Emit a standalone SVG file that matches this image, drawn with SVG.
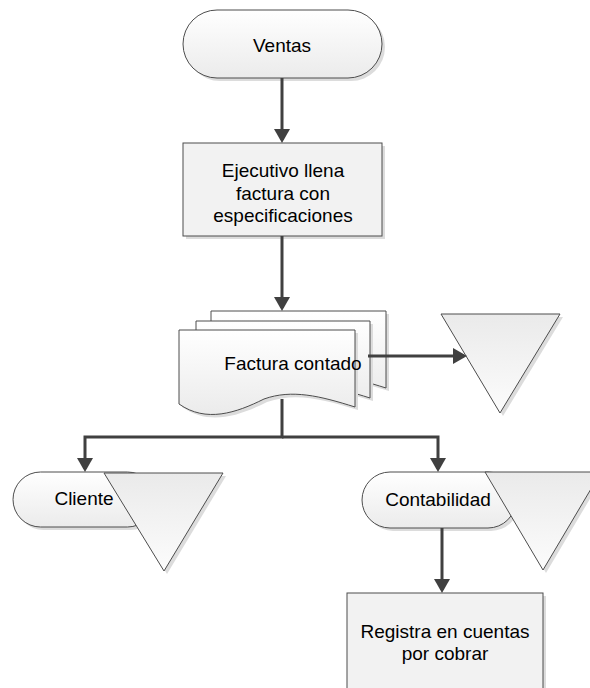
<svg xmlns="http://www.w3.org/2000/svg" width="590" height="688" viewBox="0 0 590 688">
  <defs>
    <linearGradient id="fillDown" x1="0" y1="0" x2="0" y2="1">
      <stop offset="0" stop-color="#ffffff"/>
      <stop offset="1" stop-color="#ebebeb"/>
    </linearGradient>
    <linearGradient id="fillUp" x1="0" y1="0" x2="0" y2="1">
      <stop offset="0" stop-color="#eaeaea"/>
      <stop offset="1" stop-color="#fcfcfc"/>
    </linearGradient>
    <marker id="arrow" markerUnits="userSpaceOnUse" markerWidth="16" markerHeight="16" viewBox="0 0 14 16" refX="11" refY="8" orient="auto">
      <path d="M0,0 L14,8 L0,16 Z" fill="#404040"/>
    </marker>
  </defs>
  <style>
    .shape { fill: url(#fillDown); stroke: #4d4d4d; stroke-width: 1; }
    .tri { fill: url(#fillUp); stroke: #4d4d4d; stroke-width: 1; }
    .proc { fill: #f2f2f2; stroke: #4d4d4d; stroke-width: 1; }
    .shadow { fill: #dcdcdc; stroke: none; }
    .label { font-family: "Liberation Sans", Arial, sans-serif; font-size: 19px; fill: #000000; text-anchor: middle; }
    .conn { fill: none; stroke: #404040; stroke-width: 3; }
  </style>

  <rect width="590" height="688" fill="#ffffff"/>

  <!-- start terminator -->
  <g id="ventas">
    <rect class="shadow" x="186" y="13" width="199" height="68" rx="34"/>
    <rect class="shape" x="183" y="10" width="199" height="68" rx="34"/>
    <text class="label" x="282" y="52">Ventas</text>
  </g>

  <!-- process step -->
  <g id="ejecutivo">
    <rect class="shadow" x="186" y="146" width="199" height="93"/>
    <rect class="proc" x="183" y="143" width="199" height="93"/>
    <text class="label" x="283" y="177">Ejecutivo llena</text>
    <text class="label" x="283" y="200">factura con</text>
    <text class="label" x="283" y="222">especificaciones</text>
  </g>

  <!-- stacked documents -->
  <g id="factura">
    <path class="shadow" d="M214,314 H389 V391 C354,380 326,373 298,383 C270,397 240,407 214,388 Z"/>
    <path class="shape" d="M211,311 H386 V388 C351,377 323,370 295,380 C267,394 237,404 211,385 Z"/>
    <path class="shadow" d="M199,324 H373 V401 C338,390 310,383 282,393 C254,407 224,417 199,398 Z"/>
    <path class="shape" d="M196,321 H370 V398 C335,387 307,380 279,390 C251,404 221,414 196,395 Z"/>
    <path class="shadow" d="M182,333 H358 V410 C323,399 295,392 267,402 C239,416 209,426 182,407 Z"/>
    <path class="shape" d="M179,330 H355 V407 C320,396 292,389 264,399 C236,413 206,423 179,404 Z"/>
    <text class="label" x="293" y="370">Factura contado</text>
  </g>

  <!-- file triangle to the right -->
  <g id="archivo">
    <polygon class="shadow" points="444,317 563,317 503,416"/>
    <polygon class="tri" points="441,314 560,314 500,413"/>
  </g>

  <!-- client terminator and its file -->
  <g id="cliente">
    <rect class="shadow" x="16" y="475" width="142" height="55" rx="27.5"/>
    <rect class="shape" x="13" y="472" width="142" height="55" rx="27.5"/>
    <text class="label" x="84" y="505">Cliente</text>
  </g>
  <g id="archivo-cliente">
    <polygon class="shadow" points="107,476 226,476 167,574"/>
    <polygon class="tri" points="104,473 223,473 164,571"/>
  </g>

  <!-- accounting terminator and its file -->
  <g id="contabilidad">
    <rect class="shadow" x="365" y="475" width="154" height="56" rx="28"/>
    <rect class="shape" x="362" y="472" width="154" height="56" rx="28"/>
    <text class="label" x="438" y="506">Contabilidad</text>
  </g>
  <g id="archivo-contabilidad">
    <polygon class="shadow" points="488,475 604,475 546,573"/>
    <polygon class="tri" points="485,472 601,472 543,570"/>
  </g>

  <!-- final process step -->
  <g id="registra">
    <rect class="shadow" x="350" y="596" width="196" height="110"/>
    <rect class="proc" x="347" y="593" width="196" height="110"/>
    <text class="label" x="445" y="638">Registra en cuentas</text>
    <text class="label" x="445" y="660">por cobrar</text>
  </g>

  <!-- connectors -->
  <g id="connectors">
    <path class="conn" d="M282,78 V140" marker-end="url(#arrow)"/>
    <path class="conn" d="M282,236 V308" marker-end="url(#arrow)"/>
    <path class="conn" d="M368,356 H464" marker-end="url(#arrow)"/>
    <path class="conn" d="M282,399 V437 H85 V469" marker-end="url(#arrow)"/>
    <path class="conn" d="M282,437 H438 V469" marker-end="url(#arrow)"/>
    <path class="conn" d="M442,528 V590" marker-end="url(#arrow)"/>
  </g>
</svg>
